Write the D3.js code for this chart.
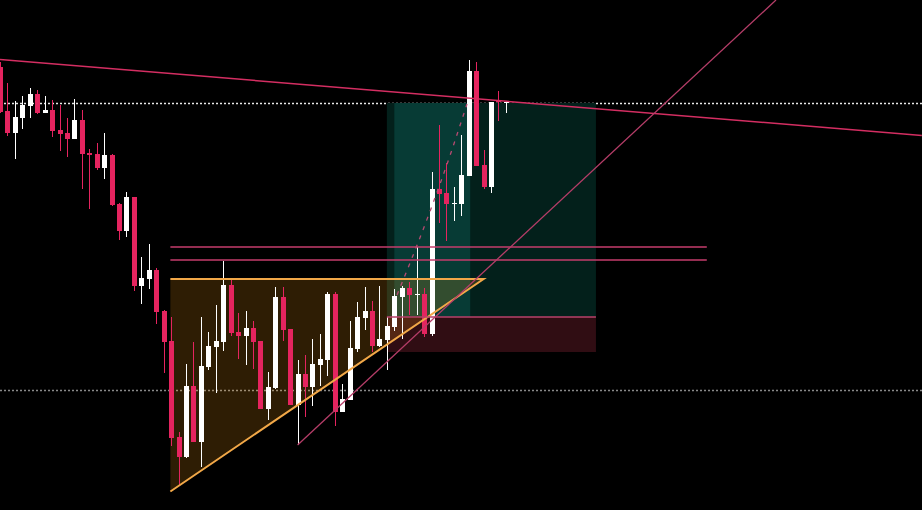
<!DOCTYPE html>
<html>
<head>
<meta charset="utf-8">
<script src="https://cdn.jsdelivr.net/npm/d3@7"></script>
<style>
  html, body { margin: 0; padding: 0; background: #000; }
  svg { display: block; }
</style>
</head>
<body>
<svg id="chart" width="922" height="510"></svg>
<script>
// ---- candle data (bar index = position in arrays), prices in arbitrary units ----
const opens  = [533,489,467,482,494,506,487,490,470,467,461,480,447,446,432,445,396,369,403,314,
                321,330,289,259,163,143,214,158,233,253,258,315,268,264,272,259,191,212,303,271,
                195,226,213,235,240,306,188,200,251,282,289,254,260,273,303,312,305.5,306,266,411,
                407,396.5,396,424,529,435,413,499,497.5];
const highs  = [538,517,499,504,512,510,504,500,495,482,501,490,451,457,467,446,397,408,403,343,
                356,332,290,283,168,236,258,283,268,295,339,320,287,289,279,259,228,313,313,271,
                240,245,261,266,308,308,216,279,298,313,299,314,283,311,314,318,353,312,428,475,
                437,413,465,540,538,450,498,509,499];
const lows   = [487,464,441,471,482,486,487,463,449,443,461,411,391,430,421,394,360,363,309,296,
                311,276,227,154,115,142,158,133,230,207,249,264,241,235,231,191,180,211,259,195,
                155,183,194,214,224,174,188,200,248,270,248,253,230,269,261,285,285,263,264,377,
                359,379,384,424,434,411,407,479,487];
const closes = [488,467,483,495,506,487,490,469,466,461,480,446,445,432,445,395,369,403,314,322,
                330,288,258,162,143,214,158,234,254,259,315,267,264,272,258,191,213,303,270,195,
                226,213,236,241,306,188,201,252,283,289,254,261,274,304,312,305,306,266,411,406,
                396,397,425,529,434,413,498,498,498];

// ---- drawing anchors (bar index, price) ----
const descLine   = [[0, 540.5], [123.9, 464.5]];
const riseLine   = [[40, 155], [104.3, 600]];
const hLevels    = [353, 340];
const hLevelSpan = [22.9, 95];
const triangle   = [[22.9, 321], [65, 321], [22.9, 108.5]];
const posSpan    = [52, 80.1];
const posLevels  = { target: 497, entry: 283, stop: 248 };
const highlight  = [53, 63.2];
const dotLevels  = [497, 210];
const projPath   = [[53.36, 305], [56.85, 370], [59.81, 430], [62.77, 496]];

const W = 922, H = 510;
const svg = d3.select("#chart");
const x = d3.scaleLinear().domain([0, 124]).range([0, 922.56]);
const y = d3.scaleLinear().domain([600, 90]).range([0, 510]);

svg.append("rect").attr("width", W).attr("height", H).attr("fill", "#000");

// dotted horizontal levels
svg.selectAll("line.dot").data(dotLevels).enter().append("line")
  .attr("x1", 0).attr("x2", W)
  .attr("y1", d => Math.round(y(d)) + 0.5).attr("y2", d => Math.round(y(d)) + 0.5)
  .attr("stroke", (d, i) => i === 0 ? "#e8e8e8" : "#8a8a8a")
  .attr("stroke-width", 1.3)
  .attr("stroke-dasharray", "2,2");

// position tool
const px0 = x(posSpan[0]), px1 = x(posSpan[1]);
svg.append("rect").attr("x", px0).attr("width", px1 - px0)
  .attr("y", y(posLevels.target)).attr("height", y(posLevels.entry) - y(posLevels.target))
  .attr("fill", "#03201b");
svg.append("rect").attr("x", px0).attr("width", px1 - px0)
  .attr("y", y(posLevels.entry)).attr("height", y(posLevels.stop) - y(posLevels.entry))
  .attr("fill", "#300d13");
svg.append("rect").attr("x", x(highlight[0])).attr("width", x(highlight[1]) - x(highlight[0]))
  .attr("y", y(posLevels.target)).attr("height", y(posLevels.entry) - y(posLevels.target))
  .attr("fill", "#073b35");

// triangle fill
const triPts = triangle.map(p => [x(p[0]), y(p[1])]);
svg.append("path")
  .attr("d", d3.line()(triPts) + "Z")
  .attr("fill", "rgba(255,160,20,0.18)");

// candles
const n = opens.length;
const idx = d3.range(n);
const up = i => closes[i] <= opens[i] ? false : true;
const colorOf = i => closes[i] > opens[i] ? "#ffffff" : (closes[i] < opens[i] ? "#e5245f" : "#ffffff");
const g = svg.append("g");
g.selectAll("line.wick").data(idx).enter().append("line")
  .attr("x1", i => Math.round(x(i)) + 0.5).attr("x2", i => Math.round(x(i)) + 0.5)
  .attr("y1", i => y(highs[i])).attr("y2", i => y(lows[i]))
  .attr("stroke", colorOf).attr("stroke-width", 1);
g.selectAll("rect.body").data(idx).enter().append("rect")
  .attr("x", i => Math.round(x(i)) - 2)
  .attr("width", 5)
  .attr("y", i => y(Math.max(opens[i], closes[i])))
  .attr("height", i => Math.max(1, Math.abs(y(opens[i]) - y(closes[i]))))
  .attr("fill", colorOf);

// triangle edges (top + hypotenuse)
svg.append("path")
  .attr("d", d3.line()([triPts[2], triPts[1], triPts[0]]))
  .attr("fill", "none").attr("stroke", "#f2a848").attr("stroke-width", 2);

// entry line of position tool
svg.append("line").attr("x1", px0).attr("x2", px1)
  .attr("y1", y(posLevels.entry)).attr("y2", y(posLevels.entry))
  .attr("stroke", "#b8406a").attr("stroke-width", 1.5);

// horizontal pink levels
svg.selectAll("line.lvl").data(hLevels).enter().append("line")
  .attr("x1", x(hLevelSpan[0])).attr("x2", x(hLevelSpan[1]))
  .attr("y1", d => y(d)).attr("y2", d => y(d))
  .attr("stroke", "#c63c6c").attr("stroke-width", 1.5);

// trend lines
const lineGen = d3.line().x(p => x(p[0])).y(p => y(p[1]));
svg.append("path").attr("d", lineGen(descLine))
  .attr("fill", "none").attr("stroke", "#d42e62").attr("stroke-width", 1.5);
svg.append("path").attr("d", lineGen(riseLine))
  .attr("fill", "none").attr("stroke", "#b53d68").attr("stroke-width", 1.3);

// projection dashed path
svg.append("path").attr("d", d3.line().x(p => x(p[0])).y(p => y(p[1])).curve(d3.curveMonotoneY)(projPath))
  .attr("fill", "none").attr("stroke", "#b84a72").attr("stroke-width", 1.3)
  .attr("stroke-dasharray", "4,6");
</script>
</body>
</html>
